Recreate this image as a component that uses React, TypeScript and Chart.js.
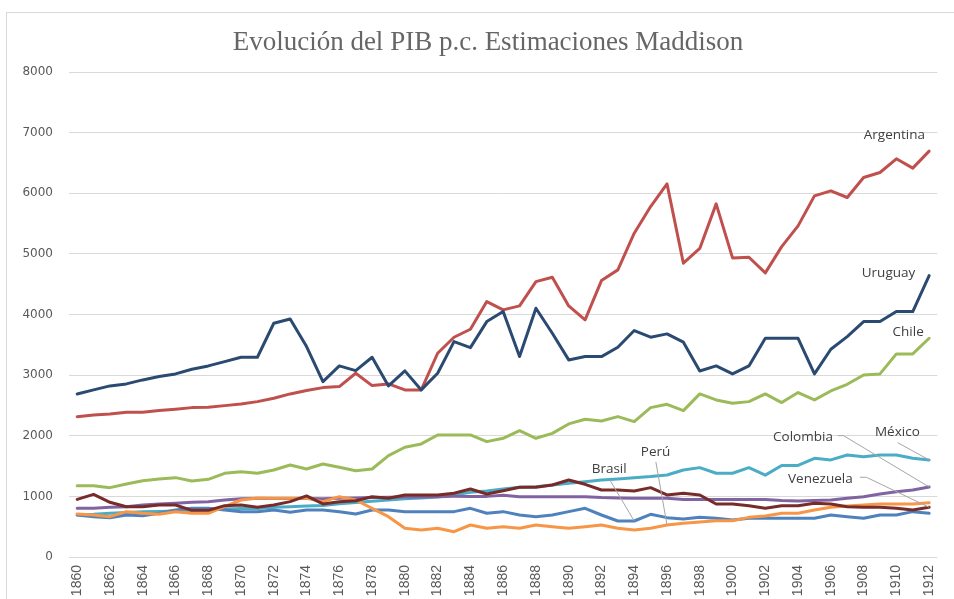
import { useEffect, useRef } from "react";
import { Chart, registerables } from "chart.js";

Chart.register(...registerables);

const YEARS = [
  "1860", "1861", "1862", "1863", "1864", "1865", "1866", "1867", "1868", "1869",
  "1870", "1871", "1872", "1873", "1874", "1875", "1876", "1877", "1878", "1879",
  "1880", "1881", "1882", "1883", "1884", "1885", "1886", "1887", "1888", "1889",
  "1890", "1891", "1892", "1893", "1894", "1895", "1896", "1897", "1898", "1899",
  "1900", "1901", "1902", "1903", "1904", "1905", "1906", "1907", "1908", "1909",
  "1910", "1911", "1912",
];

const ARGENTINA = [
  2315, 2343, 2360, 2387, 2387, 2415, 2437, 2464, 2470, 2497,
  2525, 2563, 2618, 2690, 2745, 2794, 2811, 3031, 2827, 2855,
  2756, 2756, 3361, 3625, 3757, 4213, 4076, 4142, 4543, 4615,
  4142, 3911, 4560, 4736, 5341, 5781, 6155, 4846, 5090, 5825,
  4934, 4945, 4686, 5120, 5462, 5957, 6040, 5930, 6260, 6342,
  6568, 6414, 6695,
];

const URUGUAY = [
  2690, 2756, 2822, 2855, 2921, 2976, 3020, 3097, 3152, 3223,
  3295, 3295, 3856, 3927, 3471, 2893, 3152, 3075, 3295, 2822,
  3070, 2756, 3031, 3553, 3454, 3883, 4048, 3306, 4103, 3691,
  3251, 3306, 3306, 3460, 3735, 3625, 3680, 3543, 3069, 3152,
  3020, 3152, 3608, 3608, 3608, 3020, 3427, 3636, 3883, 3883,
  4048, 4048, 4642,
];

const CHILE = [
  1177, 1177, 1144, 1204, 1259, 1287, 1309, 1254, 1281, 1380,
  1408, 1380, 1435, 1518, 1452, 1534, 1479, 1424, 1452, 1672,
  1810, 1865, 2013, 2013, 2013, 1903, 1958, 2084, 1958, 2040,
  2195, 2272, 2244, 2316, 2233, 2464, 2519, 2415, 2690, 2591,
  2536, 2563, 2690, 2547, 2712, 2591, 2739, 2849, 3003, 3020,
  3350, 3350, 3608,
];

const BRASIL = [
  693, 665, 649, 693, 682, 721, 775, 803, 803, 775,
  748, 748, 775, 737, 775, 775, 748, 710, 775, 775,
  748, 748, 748, 748, 803, 721, 748, 693, 665, 693,
  748, 803, 693, 594, 594, 704, 649, 627, 654, 638,
  610, 638, 638, 638, 638, 638, 693, 665, 638, 693,
  693, 748, 721,
];

const PERU = [
  710, 693, 665, 748, 721, 704, 748, 721, 721, 830,
  940, 975, 968, 968, 968, 913, 995, 940, 803, 665,
  473, 446, 473, 418, 528, 473, 500, 473, 528, 500,
  473, 500, 528, 473, 446, 473, 528, 556, 577, 599,
  599, 654, 676, 721, 721, 775, 820, 842, 858, 875,
  875, 875, 896,
];

const COLOMBIA = [
  803, 803, 820, 830, 858, 875, 886, 902, 913, 940,
  960, 965, 965, 965, 965, 960, 970, 975, 980, 985,
  990, 990, 995, 1000, 1000, 1000, 1020, 995, 995, 995,
  995, 995, 980, 975, 970, 970, 968, 950, 950, 950,
  950, 950, 950, 930, 925, 930, 940, 970, 995, 1040,
  1078, 1105, 1155,
];

const MEXICO = [
  693, 704, 721, 735, 745, 750, 760, 770, 775, 790,
  800, 800, 820, 830, 840, 850, 880, 900, 920, 940,
  960, 975, 990, 1023, 1067, 1089, 1122, 1150, 1160, 1188,
  1216, 1243, 1270, 1287, 1309, 1326, 1353, 1435, 1474, 1381,
  1381, 1474, 1350, 1510, 1510, 1628, 1601, 1683, 1655, 1683,
  1683, 1628, 1601,
];

const VENEZUELA = [
  951, 1034, 902, 830, 830, 858, 858, 770, 770, 847,
  858, 820, 858, 913, 1007, 875, 913, 929, 995, 968,
  1023, 1023, 1023, 1051, 1122, 1040, 1094, 1150, 1150, 1188,
  1270, 1199, 1105, 1105, 1089, 1144, 1023, 1051, 1023, 875,
  875, 847, 803, 847, 847, 886, 875, 830, 820, 820,
  803, 775, 820,
];

const TITLE = "Evolución del PIB p.c. Estimaciones Maddison";

// drawing order: first entry is drawn on top
const SERIES_NAMES = ["Uruguay", "Argentina", "Chile", "Venezuela", "Perú", "Brasil", "Colombia", "México"];
const SERIES_VALUES = [URUGUAY, ARGENTINA, CHILE, VENEZUELA, PERU, BRASIL, COLOMBIA, MEXICO];
const SERIES_COLORS = ["#2B4A72", "#C0504D", "#9BBB59", "#772C2A", "#F79646", "#4F81BD", "#8064A2", "#4BACC6"];

const Y_MIN = 0;
const Y_MAX = 8000;
const Y_STEP = 1000;

// label anchors in data units: [category index, value]
const LABEL_TEXTS = ["Argentina", "Uruguay", "Chile", "México", "Colombia", "Venezuela", "Brasil", "Perú"];
const LABEL_AT: [number, number][] = [
  [49.88, 6964], [49.52, 4686], [50.72, 3713], [50.06, 2054],
  [44.3, 1985], [45.36, 1287], [32.47, 1444], [35.3, 1724],
];
// leader lines: series, target year, start path in data units
const LEADER_SERIES = ["Brasil", "Perú", "Colombia", "Venezuela", "México"];
const LEADER_YEAR = ["1894", "1896", "1912", "1912", "1912"];
const LEADER_PATH: [number, number][][] = [
  [[32.51, 1271]],
  [[35.32, 1568]],
  [[46.43, 2002], [46.77, 2002]],
  [[47.77, 1315], [48.17, 1315]],
  [[50.08, 1886]],
];

const framePlugin = {
  id: "frame",
  beforeDraw(chart: any) {
    const { ctx, width, height } = chart;
    ctx.save();
    ctx.fillStyle = "#FFFFFF";
    ctx.fillRect(0, 0, width, height);
    ctx.strokeStyle = "#D9D9D9";
    ctx.lineWidth = 1;
    ctx.strokeRect(6.5, 12.5, width + 10, height + 10);
    ctx.restore();
  },
  afterDraw(chart: any) {
    const { ctx } = chart;
    ctx.save();
    ctx.fillStyle = "#666666";
    ctx.font = '27px "Liberation Serif", serif';
    ctx.textAlign = "center";
    ctx.textBaseline = "alphabetic";
    ctx.fillText(TITLE, 488, 50);
    ctx.restore();
  },
};

const labelPlugin = {
  id: "seriesLabels",
  afterDatasetsDraw(chart: any) {
    const { ctx } = chart;
    const xs = chart.scales.x;
    const ys = chart.scales.y;
    ctx.save();
    ctx.strokeStyle = "#A6A6A6";
    ctx.lineWidth = 1;
    LEADER_SERIES.forEach((name, i) => {
      const di = SERIES_NAMES.indexOf(name);
      const pi = YEARS.indexOf(LEADER_YEAR[i]);
      const pt = chart.getDatasetMeta(di).data[pi];
      ctx.beginPath();
      LEADER_PATH[i].forEach(([cx, cy], k) => {
        const px = xs.getPixelForValue(cx);
        const py = ys.getPixelForValue(cy);
        if (k === 0) ctx.moveTo(px, py);
        else ctx.lineTo(px, py);
      });
      ctx.lineTo(pt.x, pt.y);
      ctx.stroke();
    });
    ctx.fillStyle = "#404040";
    ctx.font = '13.5px "Open Sans", sans-serif';
    ctx.textAlign = "center";
    ctx.textBaseline = "middle";
    LABEL_TEXTS.forEach((t, i) => {
      const [cx, cy] = LABEL_AT[i];
      ctx.fillText(t, xs.getPixelForValue(cx), ys.getPixelForValue(cy));
    });
    ctx.restore();
  },
};

export default function App() {
  const ref = useRef<HTMLCanvasElement | null>(null);
  useEffect(() => {
    document.body.style.margin = "0";
    const canvas = ref.current;
    if (!canvas) return;
    const chart = new Chart(canvas, {
      type: "line",
      data: {
        labels: YEARS,
        datasets: SERIES_NAMES.map((name, i) => ({
          label: name,
          data: SERIES_VALUES[i],
          borderColor: SERIES_COLORS[i],
          backgroundColor: SERIES_COLORS[i],
          borderWidth: 3,
          pointRadius: 0,
          pointHoverRadius: 0,
          tension: 0,
          fill: false,
          borderCapStyle: "round",
          borderJoinStyle: "round",
        })),
      },
      options: {
        responsive: false,
        animation: false,
        events: [],
        layout: { padding: { left: 0, right: 5.6, top: 72, bottom: 0 } },
        plugins: {
          legend: { display: false },
          title: { display: false },
          tooltip: { enabled: false },
        },
        scales: {
          x: {
            type: "category",
            offset: true,
            grid: { display: false, drawTicks: false },
            border: { display: false },
            afterFit(scale: any) {
              scale.height = 42;
            },
            ticks: {
              autoSkip: false,
              minRotation: 90,
              maxRotation: 90,
              padding: 8,
              color: "#595959",
              font: { family: '"Liberation Sans Narrow", "Liberation Sans", sans-serif', size: 14 },
              callback: (_v: any, idx: number) => (idx % 2 === 0 ? YEARS[idx] : ""),
            },
          },
          y: {
            min: Y_MIN,
            max: Y_MAX,
            grid: { color: "#D9D9D9", lineWidth: 1, drawTicks: false },
            border: { display: false },
            afterFit(scale: any) {
              scale.width = 69;
            },
            ticks: {
              stepSize: Y_STEP,
              padding: 16,
              color: "#595959",
              font: { family: '"DejaVu Sans", sans-serif', size: 12 },
              callback: (v: any) => String(v),
            },
          },
        },
      },
      plugins: [framePlugin, labelPlugin],
    } as any);
    return () => chart.destroy();
  }, []);
  return (
    <div style={{ width: 954, height: 599 }}>
      <canvas ref={ref} width={954} height={599} style={{ display: "block" }} />
    </div>
  );
}
